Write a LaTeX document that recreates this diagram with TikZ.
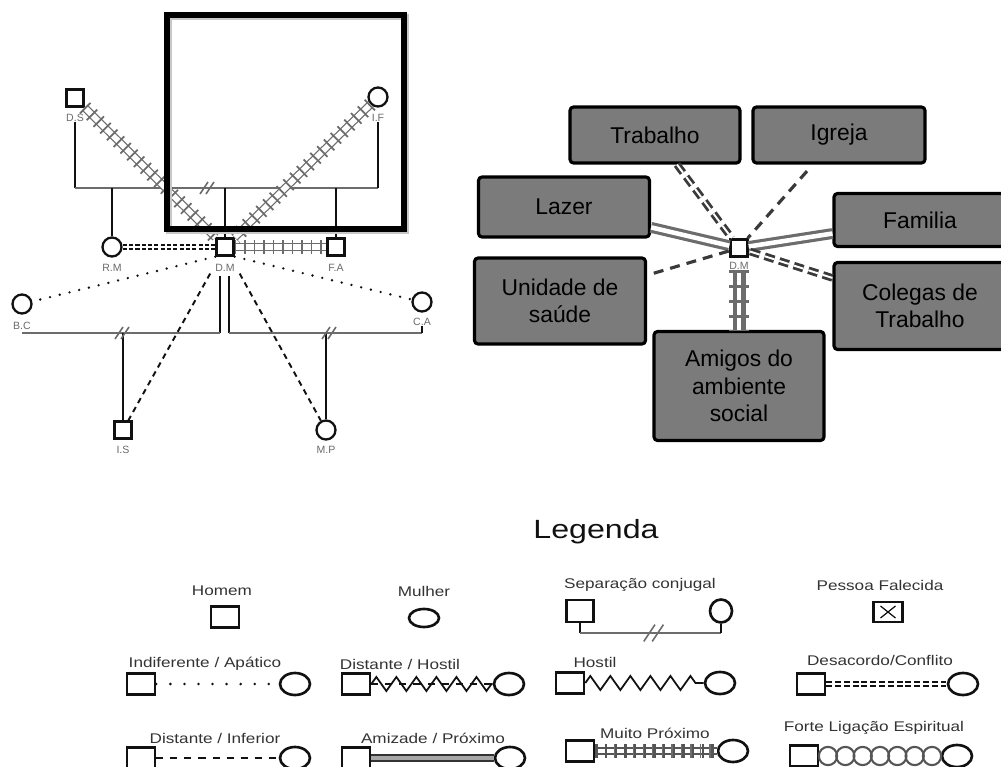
\documentclass[tikz,border=0pt]{standalone}
\usepackage{fontspec}
\setmainfont{Liberation Sans}
\newfontfamily\legendfont{Liberation Sans}[FakeStretch=1.22]
\usetikzlibrary{calc,shapes.geometric,decorations.pathmorphing}
\definecolor{ink}{HTML}{111111}
\definecolor{rail}{HTML}{6C6C6C}
\definecolor{darkRail}{HTML}{3A3A3A}
\definecolor{tagGray}{HTML}{6A6A6A}
\definecolor{sectorFill}{HTML}{7B7B7B}
\definecolor{legendInk}{HTML}{333333}
\definecolor{chainGray}{HTML}{555555}

\begin{document}
\begin{tikzpicture}[
  x=0.02cm, y=-0.02cm,
  man/.style={
    rectangle, draw=ink, line width=1.3pt, fill=white,
    minimum size=0.34cm, inner sep=0pt
  },
  woman/.style={
    circle, draw=ink, line width=1.3pt, fill=white,
    minimum size=0.38cm, inner sep=0pt
  },
  tag/.style={font=\fontsize{6}{7}\selectfont, text=tagGray, inner sep=0pt},
  kin/.style={draw=ink, line width=0.9pt},
  bond/.style={draw=rail, line width=0.9pt},
  frame/.style={draw=black, line width=3.4pt},
  frameShade/.style={draw=black!22, line width=3.4pt},
  sector/.style={
    rectangle, rounded corners=2pt,
    draw=black, line width=1.8pt,
    fill=sectorFill,
    minimum width=3.4cm,
    align=center,
    font=\fontsize{13}{15.5}\selectfont
  },
  % relation lines
  veryClose/.style={
    draw=rail, line width=0.7pt, double=white, double distance=3.2pt,
    postaction={draw=rail, line width=8.5pt, dash pattern=on 1pt off 4.4pt}
  },
  veryCloseBold/.style={
    draw=rail, line width=2.3pt, double=white, double distance=2.8pt,
    postaction={draw=rail, line width=11pt, dash pattern=on 2pt off 6.5pt}
  },
  conflict/.style={
    draw=ink, line width=0.9pt, double=white, double distance=1.3pt,
    dash pattern=on 2.4pt off 1.2pt
  },
  indifferent/.style={
    draw=ink, line width=1.5pt, dash pattern=on 0pt off 5.7pt, line cap=round
  },
  distant/.style={draw=ink, line width=1.1pt, dash pattern=on 3.2pt off 2.6pt},
  ecoDistant/.style={draw=darkRail, line width=1.8pt, dash pattern=on 5.7pt off 4pt},
  ecoConflict/.style={
    draw=darkRail, line width=1.6pt, double=white, double distance=1.1pt,
    dash pattern=on 5.7pt off 3pt
  },
  ecoFriend/.style={draw=rail, line width=1.8pt, double=white, double distance=2.6pt},
  % legend
  legendTitle/.style={font=\legendfont\fontsize{15}{18}\selectfont, text=ink},
  legendText/.style={font=\legendfont\fontsize{8}{10}\selectfont, text=legendInk},
  legMan/.style={
    rectangle, draw=ink, line width=1.5pt, fill=white,
    minimum width=0.56cm, minimum height=0.42cm, inner sep=0pt
  },
  legWoman/.style={
    ellipse, draw=ink, line width=1.5pt, fill=white,
    minimum width=0.6cm, minimum height=0.44cm, inner sep=0pt
  },
  deceased/.style={
    legMan, minimum width=0.58cm, minimum height=0.4cm,
    path picture={
      \draw[line width=0.7pt] ($(path picture bounding box.north west)+(7,4)$) -- ($(path picture bounding box.south east)+(-7,-4)$);
      \draw[line width=0.7pt] ($(path picture bounding box.north east)+(-7,4)$) -- ($(path picture bounding box.south west)+(7,-4)$);
    }
  },
  legDotted/.style={draw=ink, line width=1.6pt, dash pattern=on 0pt off 8pt, line cap=round},
  legDashed/.style={draw=ink, line width=1.3pt, dash pattern=on 4pt off 4pt},
  legConflict/.style={
    draw=ink, line width=1pt, double=white, double distance=1.4pt,
    dash pattern=on 3.4pt off 1.6pt
  },
  legFriend/.style={draw=legendInk, line width=1pt, double=rail!60, double distance=2pt},
  hostile/.style={
    draw=ink, line width=1pt, decorate,
    decoration={zigzag, segment length=11.4pt, amplitude=4pt}
  },
  link/.style={draw=chainGray, line width=1.2pt},
  split/.pic={
    \draw[bond] (-8,6) -- (0,-6);
    \draw[bond] (-2,6) -- (6,-6);
  }
]

\useasboundingbox (0,0) rectangle (1001,767);

% ---------- Genogram ----------
\node[man] (ds) at (75,98) {};
\node[tag] (dsTag) at (75,118) {D.S};
\node[woman] (if) at (378,97) {};
\node[tag] (ifTag) at (378,118) {I.F};

\node[woman] (rm) at (112,247) {};
\node[tag] (rmTag) at (112,268) {R.M};
\node[man] (dm) at (225,247) {};
\node[tag] (dmTag) at (225,268) {D.M};
\node[man] (fa) at (336,247) {};
\node[tag] (faTag) at (336,268) {F.A};

\node[woman] (bc) at (22,304) {};
\node[tag] (bcTag) at (22,326) {B.C};
\node[woman] (ca) at (422,302) {};
\node[tag] (caTag) at (422,322) {C.A};

\node[man] (is) at (123,430) {};
\node[tag] (isTag) at (123,450) {I.S};
\node[woman] (mp) at (326,430) {};
\node[tag] (mpTag) at (326,450) {M.P};

% parents' separation
\coordinate (topBar) at (0,188);
\draw[kin] (dsTag.south) -- (dsTag.south |- topBar);
\draw[bond] (dsTag.south |- topBar) -- (ifTag.south |- topBar);
\draw[kin] (ifTag.south |- topBar) -- (ifTag.south);
\draw[kin] (rm) -- (rm |- topBar);
\draw[kin] (dm) -- (dm |- topBar);
\draw[kin] (fa) -- (fa |- topBar);
\pic at (208,188) {split};

% D.M's two separations
\coordinate (dmLeft) at (220,276);
\coordinate (dmRight) at (229,276);
\coordinate (lowBar) at (0,333);
\draw[kin] (dmLeft) -- (dmLeft |- lowBar);
\draw[kin] (dmRight) -- (dmRight |- lowBar);
\draw[bond] (dmLeft |- lowBar) -- (bc |- lowBar);
\draw[bond] (dmRight |- lowBar) -- (ca |- lowBar);
\draw[kin] (ca |- lowBar) -- (caTag.south);
\draw[kin] (is) -- (is |- lowBar);
\draw[kin] (mp) -- (mp |- lowBar);
\pic at (123,333) {split};
\pic at (330,333) {split};

% relations
\draw[veryClose] (ds) -- (dm);
\draw[veryClose] (if) -- (dm);
\draw[veryClose] (dm) -- (fa);
\draw[conflict] (rm) -- (dm);
\draw[indifferent] (dm.south west) -- (bc);
\draw[indifferent] (dm.south east) -- (ca);
\draw[distant, shorten <=11pt] (dm) -- (is);
\draw[distant, shorten <=11pt] (dm) -- (mp);

% highlight frame
\draw[frameShade] (169,17) rectangle (406,231);
\draw[frame] (167,15) rectangle (404,229);

% ---------- Ecomap ----------
\node[sector, minimum height=1.12cm] (trabalho) at (655,135) {Trabalho};
\node[sector, minimum height=1.12cm, minimum width=3.44cm] (igreja) at (839,135) {Igreja};
\node[sector, minimum height=1.2cm, minimum width=3.42cm] (lazer) at (564,207) {Lazer};
\node[sector, minimum height=1.06cm, minimum width=3.44cm] (familia) at (920,220) {Familia};
\node[sector, minimum height=1.72cm, minimum width=3.42cm] (saude) at (560,301) {Unidade de\\saúde};
\node[sector, minimum height=1.74cm, minimum width=3.44cm] (colegas) at (920,306) {Colegas de\\Trabalho};
\node[sector, minimum height=2.18cm] (amigos) at (739,386) {Amigos do\\ambiente\\social};

\node[man, line width=1.4pt] (dmEco) at (739,248) {};
\node[tag] (dmEcoTag) at (739,266) {D.M};

\draw[ecoConflict] (trabalho) -- (dmEco);
\draw[ecoDistant, shorten <=5pt] (igreja) -- (dmEco);
\draw[ecoFriend] (lazer) -- (dmEco);
\draw[ecoFriend] (familia) -- (dmEco);
\draw[ecoDistant, shorten <=4pt] (saude) -- (dmEco);
\draw[ecoConflict] (colegas) -- (dmEco);
\draw[veryCloseBold] (dmEcoTag.south) -- (amigos.north);

% ---------- Legend ----------
\node[legendTitle] (legenda) at (596,532) {Legenda};

% row 1
\node[legendText] (homemTxt) at (222,591) {Homem};
\node[legMan] (homem) at (225,617) {};
\node[legendText] (mulherTxt) at (424,591) {Mulher};
\node[legWoman, minimum height=0.36cm] (mulher) at (424,618) {};

\node[legendText] (sepTxt) at (640,585) {Separação conjugal};
\node[legMan, minimum width=0.54cm, minimum height=0.44cm] (sepMan) at (580,611) {};
\node[legWoman, minimum width=0.44cm, minimum height=0.46cm] (sepWoman) at (721,611) {};
\coordinate (sepBar) at (0,633);
\draw[kin, line width=1.3pt] (sepMan) -- (sepMan |- sepBar);
\draw[bond, line width=1.3pt] (sepMan |- sepBar) -- (sepWoman |- sepBar);
\draw[kin, line width=1.3pt] (sepWoman |- sepBar) -- (sepWoman);
\pic[scale=1.4] at (655,633) {split};

\node[legendText] (deadTxt) at (880,585) {Pessoa Falecida};
\node[deceased] (dead) at (888,612) {};

% row 2
\node[legendText] (apTxt) at (205,664) {Indiferente / Apático};
\node[legMan] (apMan) at (141,684) {};
\node[legWoman] (apWoman) at (295,684) {};
\draw[legDotted] (apMan) -- (apWoman);

\node[legendText] (dhTxt) at (400,664) {Distante / Hostil};
\node[legMan] (dhMan) at (356,684) {};
\node[legWoman] (dhWoman) at (509,684) {};
\draw[legDashed, line width=0.9pt] (dhMan) -- (dhWoman);
\draw[hostile] (dhMan) -- (dhWoman);

\node[legendText] (hoTxt) at (595,662) {Hostil};
\node[legMan] (hoMan) at (570,683) {};
\node[legWoman] (hoWoman) at (720,683) {};
\draw[hostile] (hoMan) -- (hoWoman);

\node[legendText] (dcTxt) at (880,660) {Desacordo/Conflito};
\node[legMan] (dcMan) at (811,684) {};
\node[legWoman] (dcWoman) at (963,684) {};
\draw[legConflict] (dcMan) -- (dcWoman);

% row 3
\node[legendText] (diTxt) at (215,738) {Distante / Inferior};
\node[legMan] (diMan) at (141,758) {};
\node[legWoman] (diWoman) at (295,758) {};
\draw[legDashed] (diMan) -- (diWoman);

\node[legendText] (amTxt) at (433,738) {Amizade / Próximo};
\node[legMan] (amMan) at (356,758) {};
\node[legWoman] (amWoman) at (510,758) {};
\draw[legFriend] (amMan) -- (amWoman);

\node[legendText] (mpTxt) at (655,733) {Muito Próximo};
\node[legMan] (mpMan) at (580,751) {};
\node[legWoman] (mpWoman) at (733,751) {};
\draw[veryClose, draw=chainGray, line width=0.9pt, double distance=2.8pt,
  postaction={draw=chainGray, line width=7.5pt, dash pattern=on 1.3pt off 4.2pt}] (mpMan) -- (mpWoman);

\node[legendText] (flTxt) at (874,728) {Forte Ligação Espiritual};
\node[legMan] (flMan) at (804,756) {};
\node[legWoman] (flWoman) at (957,756) {};
\foreach \k in {1,3,...,13}
  \draw[link] ($(flMan.east)!{\k/14}!(flWoman.west)$) circle[radius=5.2pt];

\end{tikzpicture}
\end{document}
